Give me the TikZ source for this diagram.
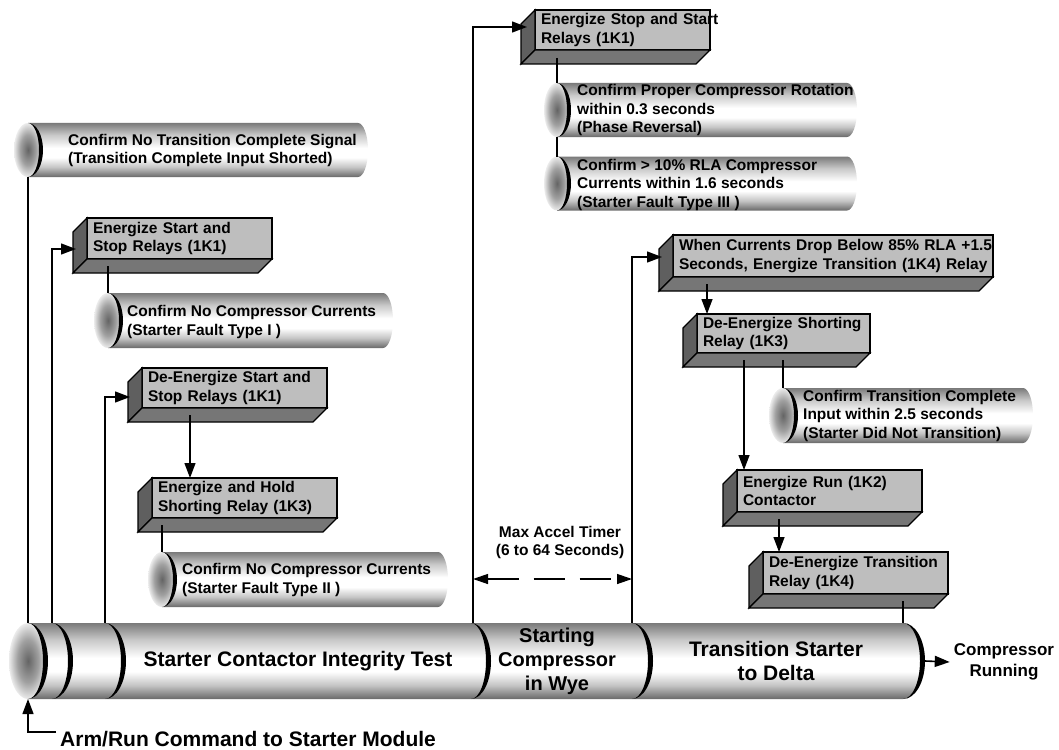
\documentclass[tikz,border=0pt]{standalone}
\usepackage{fontspec}
\setmainfont{Liberation Sans}
\usetikzlibrary{arrows.meta,calc}

% tube and relay-box tones
\definecolor{tubetop}{RGB}{122,122,122}
\definecolor{tubeupper}{RGB}{200,200,200}
\definecolor{tubelower}{RGB}{196,196,196}
\definecolor{tubebottom}{RGB}{105,105,105}
\definecolor{endinner}{RGB}{100,100,100}
\definecolor{endmid}{RGB}{160,160,160}
\definecolor{endouter}{RGB}{235,235,235}
\definecolor{boxfront}{RGB}{190,190,190}
\definecolor{boxside}{RGB}{95,95,95}
\definecolor{boxbottom}{RGB}{118,118,118}

\pgfdeclareverticalshading{tubeshade}{100bp}{color(0bp)=(tubebottom); color(25bp)=(tubebottom); color(34bp)=(tubelower); color(43bp)=(white); color(52bp)=(white); color(64bp)=(tubeupper); color(75bp)=(tubetop); color(100bp)=(tubetop)}
\pgfdeclareradialshading{endshade}{\pgfpoint{0bp}{0bp}}{color(0bp)=(endinner); color(14bp)=(endmid); color(25bp)=(endouter); color(50bp)=(endouter)}

\newcommand{\boxfont}{\fontsize{15.5}{18.5}\selectfont\bfseries}
\newcommand{\stagefont}{\fontsize{21}{24}\selectfont\bfseries}

\tikzset{
  conn/.style={line width=1.3pt},
  arrowline/.style={conn, -{Triangle[length=15pt,width=11pt]}},
  relay/.style={draw, line width=1.2pt, fill=boxfront, anchor=north west, outer sep=0pt,
    inner xsep=6pt, inner ysep=0pt, align=left, font=\boxfont},
  relayedge/.style={line width=1.2pt, line join=miter},
  tubetext/.style={anchor=west, inner sep=0pt, align=left, font=\boxfont},
  stagetext/.style={align=center, inner sep=0pt, font=\stagefont},
}

% black crescent rim: #1 x, #2 centre y, #3 half height, #4 outer x-radius, #5 thickness
\newcommand{\crescent}[5]{%
  \fill (#1,#2-#3) .. controls (#1+0.5523*#4,#2-#3) and (#1+#4,#2-0.5523*#3) .. (#1+#4,#2)
    .. controls (#1+#4,#2+0.5523*#3) and (#1+0.5523*#4,#2+#3) .. (#1,#2+#3)
    .. controls (#1+0.5523*#4-0.5523*#5,#2+#3) and (#1+#4-#5,#2+0.5523*#3) .. (#1+#4-#5,#2)
    .. controls (#1+#4-#5,#2-0.5523*#3) and (#1+0.5523*#4-0.5523*#5,#2-#3) .. (#1,#2-#3) -- cycle;}

% branch tube: #1 name, #2 end-face x, #3 centre y, #4 half height, #5 face x-radius, #6 far end x
\newcommand{\tube}[6]{%
  \shade[shading=tubeshade] (#2,#3-#4) -- (#6,#3-#4) .. controls (#6+5.5,#3-#4) and (#6+10,#3-0.5523*#4) .. (#6+10,#3)
    .. controls (#6+10,#3+0.5523*#4) and (#6+5.5,#3+#4) .. (#6,#3+#4) -- (#2,#3+#4) -- cycle;
  \shade[shading=endshade] (#2,#3) ellipse[x radius=#5, y radius=#4];
  \pgfmathsetmacro{\tuberim}{#5+1}%
  \crescent{#2}{#3}{#4}{\tuberim}{4}
  \coordinate (#1 top) at (#2,#3-#4);
  \coordinate (#1 bot) at (#2,#3+#4);
}

% relay box with extruded side and bottom: #1 name, #2 x, #3 y, #4 width, #5 height, #6 text
\newcommand{\relay}[6]{%
  \pgfmathsetmacro{\relaytw}{#4-12}%
  \node[relay, minimum width=#4pt, minimum height=#5pt, text width=\relaytw pt] (#1) at (#2,#3) {#6};
  \draw[relayedge, fill=boxside] (#1.north west) -- ++(-14,14) -- ($(#1.south west)+(-14,14)$) -- (#1.south west) -- cycle;
  \draw[relayedge, fill=boxbottom] (#1.south west) -- ++(-14,14) -- ($(#1.south east)+(-14,14)$) -- (#1.south east) -- cycle;
}

\begin{document}
\begin{tikzpicture}[x=1pt,y=-1pt]
\useasboundingbox (0,0) rectangle (1059,749);

% ---- main sequence tube ----
\shade[shading=tubeshade] (28,623) -- (903,623) .. controls (915.2,623) and (925,640) .. (925,661)
  .. controls (925,682) and (915.2,699) .. (903,699) -- (28,699) -- cycle;
\shade[shading=endshade] (28,661) ellipse[x radius=19, y radius=38];
\crescent{28}{661}{38}{20}{5}
\crescent{52}{661}{38}{21}{5}
\crescent{105}{661}{38}{21}{5}
\crescent{471}{661}{38}{20}{5}
\crescent{632}{661}{38}{21}{5}
\crescent{903}{661}{38}{22}{5}

\coordinate (m0) at (28,623);
\coordinate (m1) at (52,623);
\coordinate (m2) at (105,623);
\coordinate (m3) at (473,623);
\coordinate (m4) at (632,623);
\coordinate (m5) at (903,623);
\coordinate (mb) at (28,699);
\coordinate (mend) at (925,661);

\node[stagetext] (stage1) at (298,661) {Starter Contactor Integrity Test};
\node[stagetext, font=\fontsize{20}{24}\selectfont\bfseries] (stage2) at (557,661) {Starting\\Compressor\\in Wye};
\node[stagetext] (stage3) at (776,661) {Transition Starter\\to Delta};
\node[align=center, inner sep=0pt, font=\fontsize{17}{21}\selectfont\bfseries] (running) at (1004,662) {Compressor\\Running};
\node[anchor=west, inner sep=0pt, font=\stagefont] (arm) at (60,739) {Arm/Run Command to Starter Module};

% ---- branch tubes ----
\tube{p1}{28}{150}{27}{14}{358}
\tube{p3}{108}{320.5}{27.5}{14}{383}
\tube{p6}{162}{579.5}{27.5}{14}{438}
\tube{p9}{557}{110}{27}{13}{847}
\tube{p10}{557}{183.5}{27}{13}{847}
\tube{p14}{783}{415.5}{27.5}{14}{1023}

\node[tubetext] (t1) at (68,150.5) {Confirm No Transition Complete Signal\\(Transition Complete Input Shorted)};
\node[tubetext] (t3) at (127,322) {Confirm No Compressor Currents\\(Starter Fault Type I )};
\node[tubetext] (t6) at (182,580) {Confirm No Compressor Currents\\(Starter Fault Type II )};
\node[tubetext] (t9) at (577,110) {Confirm Proper Compressor Rotation\\within 0.3 seconds\\(Phase Reversal)};
\node[tubetext] (t10) at (577,184.5) {Confirm > 10\% RLA Compressor\\Currents within 1.6 seconds\\(Starter Fault Type III )};
\node[tubetext] (t14) at (803,415.5) {Confirm Transition Complete\\Input within 2.5 seconds\\(Starter Did Not Transition)};

% ---- relay boxes ----
\relay{b2}{87}{218}{185}{41}{\mbox{Energize Start and}\\\mbox{Stop Relays (1K1)}}
\relay{b4}{142}{368}{185}{40}{\mbox{De-Energize Start and}\\\mbox{Stop Relays (1K1)}}
\relay{b5}{152}{478}{185}{40}{\mbox{Energize and Hold}\\\mbox{Shorting Relay (1K3)}}
\relay{b8}{535}{10}{175}{40}{\mbox{Energize Stop and Start}\\\mbox{Relays (1K1)}}
\relay{b12}{673}{235}{320}{42}{\mbox{When Currents Drop Below 85\% RLA +1.5}\\\mbox{Seconds, Energize Transition (1K4) Relay}}
\relay{b13}{697}{314}{173}{39}{\mbox{De-Energize Shorting}\\\mbox{Relay (1K3)}}
\relay{b15}{737}{470}{185}{42}{\mbox{Energize Run (1K2)}\\\mbox{Contactor}}
\relay{b16}{763}{552}{185}{42}{\mbox{De-Energize Transition}\\\mbox{Relay (1K4)}}

% ---- connectors ----
\draw[conn] (m0) -- (p1 bot);
\draw[arrowline] (m1) |- ($(b2.west)+(-11,10.5)$);
\draw[conn] ($(b2.south west)+(21,7)$) -- (p3 top);
\draw[arrowline] (m2) |- ($(b4.west)+(-12,9)$);
\draw[arrowline] ($(b4.south west)+(48,7)$) -- ($(b5.north west)+(38,0)$);
\draw[conn] ($(b5.south west)+(10,7)$) -- (p6 top);

\draw[arrowline] (m3) |- ($(b8.west)+(-8,-3)$);
\draw[conn] ($(b8.south west)+(22,8)$) -- (p9 top);
\draw[conn] (p9 bot) -- (p10 top);

\draw[arrowline] (m4) |- ($(b12.west)+(-11,1)$);
\draw[arrowline] ($(b12.south west)+(34,7)$) -- ($(b13.north west)+(10,0)$);
\draw[arrowline] ($(b13.south west)+(47,7)$) -- ($(b15.north west)+(7,0)$);
\draw[conn] ($(b13.south west)+(86,7)$) -- (p14 top);
\draw[arrowline] ($(b15.south west)+(42,7)$) -- ($(b16.north west)+(16,0)$);
\draw[conn] ($(b16.south west)+(140,7)$) -- (m5);

% acceleration timer span
\node[align=center, inner sep=0pt, font=\boxfont] (accel) at (560,542.5) {Max Accel Timer\\(6 to 64 Seconds)};
\coordinate (accel left) at (473,579);
\coordinate (accel right) at (632,579);
\draw[conn, dash pattern=on 31pt off 15pt, {Triangle[length=15pt,width=10pt]}-{Triangle[length=15pt,width=10pt]}] (accel left) -- (accel right);

% start command and running output
\draw[arrowline] ([xshift=-4pt,yshift=7pt]arm.west) -| (mb);
\draw[arrowline, line width=1.6pt] (mend) -- ([xshift=-4pt]running.west);
\end{tikzpicture}
\end{document}
